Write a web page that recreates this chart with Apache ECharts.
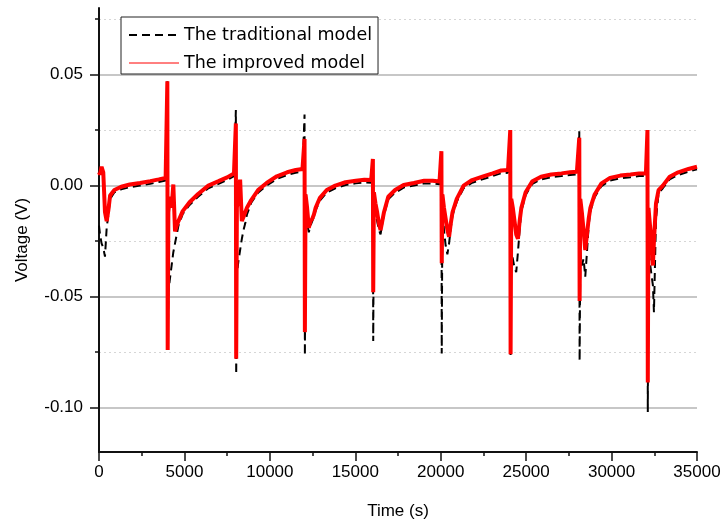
<!DOCTYPE html>
<html>
<head>
<meta charset="utf-8">
<script src="https://cdn.jsdelivr.net/npm/echarts@6/dist/echarts.min.js"></script>
<style>
html, body { margin: 0; padding: 0; background: #fff; }
#chart { width: 722px; height: 519px; }
</style>
</head>
<body>
<div id="chart"></div>
<script>
// time (s), one line per charging cycle
const timeS = [
  0, 60, 150, 250, 350, 450, 550, 650, 900, 1300, 1800, 2400, 3000, 3500, 3900,
  4000, 4020, 4060, 4150, 4250, 4350, 4450, 4550, 4650, 4900, 5300, 5800, 6400, 7000, 7500, 7900,
  8010, 8030, 8070, 8160, 8260, 8360, 8460, 8560, 8660, 8910, 9310, 9810, 10410, 11010, 11510, 11910,
  12030, 12050, 12090, 12180, 12280, 12380, 12480, 12580, 12680, 12930, 13330, 13830, 14430, 15030, 15530, 15930,
  16030, 16050, 16090, 16180, 16280, 16380, 16480, 16580, 16680, 16930, 17330, 17830, 18430, 19030, 19530, 19930,
  20040, 20060, 20100, 20190, 20290, 20390, 20490, 20590, 20690, 20940, 21340, 21840, 22440, 23040, 23540, 23940,
  24070, 24090, 24130, 24220, 24320, 24420, 24520, 24620, 24720, 24970, 25370, 25870, 26470, 27070, 27570, 27970,
  28110, 28130, 28170, 28260, 28360, 28460, 28560, 28660, 28760, 29010, 29410, 29910, 30510, 31110, 31610, 32010,
  32100, 32120, 32160, 32250, 32350, 32420, 32480, 32600, 32750, 33000, 33400, 33900, 34500, 35000
];

const traditionalV = [
  -0.018, -0.022, -0.026, -0.028, -0.032, -0.019, -0.013, -0.006, -0.003, -0.0017, -0.0007, 0, 0.0008, 0.0016, 0.0023,
  0.047, -0.074, -0.048, -0.042, -0.036, -0.030, -0.026, -0.022, -0.018, -0.0128, -0.0087, -0.005, -0.0012, 0.0008, 0.0025, 0.0043,
  0.034, -0.085, -0.040, -0.034, -0.029, -0.024, -0.020, -0.017, -0.013, -0.0077, -0.0032, 0, 0.003, 0.0048, 0.0058, 0.0063,
  0.032, -0.0765, -0.012, -0.017, -0.021, -0.018, -0.016, -0.014, -0.0112, -0.0067, -0.0032, -0.0012, 0.0003, 0.001, 0.0014, 0.0013,
  0.012, -0.070, -0.008, -0.012, -0.016, -0.020, -0.022, -0.017, -0.0132, -0.0062, -0.0032, -0.0009, 0, 0.001, 0.001, 0.0006,
  0.0155, -0.0756, -0.010, -0.020, -0.027, -0.031, -0.026, -0.019, -0.0135, -0.0072, -0.0012, 0.0013, 0.0028, 0.0043, 0.0056, 0.0058,
  0.025, -0.077, -0.028, -0.033, -0.037, -0.039, -0.030, -0.020, -0.0115, -0.0042, 0.0008, 0.0028, 0.0038, 0.0043, 0.0048, 0.005,
  0.0245, -0.079, -0.030, -0.036, -0.033, -0.041, -0.030, -0.018, -0.0115, -0.0052, -0.0002, 0.0023, 0.0033, 0.0038, 0.0043, 0.0043,
  0.025, -0.102, -0.028, -0.035, -0.041, -0.045, -0.057, -0.015, -0.0035, -0.0012, 0.0028, 0.0048, 0.0063, 0.0073
];

const improvedV = [
  0.006, 0.005, 0.0085, 0.006, -0.012, -0.016, -0.011, -0.0045, -0.002, -0.0005, 0.0005, 0.0012, 0.002, 0.0028, 0.0035,
  0.047, -0.074, -0.012, -0.005, -0.010, 0.0005, -0.0206, -0.018, -0.016, -0.0115, -0.0075, -0.0038, 0, 0.002, 0.0037, 0.0055,
  0.028, -0.078, -0.010, -0.004, 0.0027, -0.016, -0.014, -0.012, -0.010, -0.0065, -0.002, 0.0012, 0.0042, 0.006, 0.007, 0.0075,
  0.021, -0.066, -0.004, -0.010, -0.019, -0.016, -0.015, -0.013, -0.010, -0.0055, -0.002, 0, 0.0015, 0.0022, 0.0026, 0.0025,
  0.012, -0.048, -0.003, -0.008, -0.012, -0.017, -0.020, -0.016, -0.012, -0.005, -0.002, 0.0003, 0.0012, 0.0022, 0.0022, 0.0018,
  0.0155, -0.035, -0.004, -0.010, -0.015, -0.020, -0.023, -0.017, -0.012, -0.006, 0, 0.0025, 0.004, 0.0055, 0.0068, 0.007,
  0.025, -0.076, -0.006, -0.010, -0.016, -0.022, -0.024, -0.016, -0.010, -0.003, 0.002, 0.004, 0.005, 0.0055, 0.006, 0.0062,
  0.0216, -0.052, -0.006, -0.012, -0.020, -0.029, -0.022, -0.015, -0.010, -0.004, 0.001, 0.0035, 0.0045, 0.005, 0.0055, 0.0055,
  0.025, -0.0887, -0.010, -0.018, -0.026, -0.036, -0.025, -0.008, -0.002, 0, 0.004, 0.006, 0.0075, 0.0085
];

const yMajorTicks = [-0.10, -0.05, 0, 0.05];
const yMinorTicks = [-0.075, -0.025, 0.025, 0.075];

const chart = echarts.init(document.getElementById('chart'));

const labelFont = {
  fontFamily: '"Liberation Sans", Arial, sans-serif',
  fontSize: 17,
  color: '#000'
};

chart.setOption({
  animation: false,
  backgroundColor: '#fff',
  grid: { left: 99, right: 25, top: 8, bottom: 67, outerBoundsMode: 'none' },
  legend: {
    orient: 'vertical',
    left: 121,
    top: 17,
    itemWidth: 50,
    itemHeight: 14,
    itemGap: 10,
    padding: [9, 6, 2, 7],
    borderColor: '#222',
    borderWidth: 1,
    backgroundColor: '#fff',
    itemStyle: { opacity: 0 },
    textStyle: { fontFamily: '"DejaVu Sans", sans-serif', fontSize: 17.5, color: '#000' },
    data: [
      { name: 'The traditional model', lineStyle: { width: 2 } },
      { name: 'The improved model', lineStyle: { width: 1 } }
    ]
  },
  xAxis: {
    type: 'value',
    min: 0,
    max: 35000,
    interval: 5000,
    name: 'Time (s)',
    nameLocation: 'middle',
    nameGap: 51,
    nameTextStyle: labelFont,
    axisLine: { onZero: false, lineStyle: { color: '#111', width: 2 } },
    axisTick: { length: 9, lineStyle: { color: '#111', width: 1.5 } },
    minorTick: { show: true, splitNumber: 2, length: 4, lineStyle: { color: '#111', width: 1.5 } },
    axisLabel: Object.assign({ margin: 12, formatter: v => String(v) }, labelFont),
    splitLine: { show: false }
  },
  yAxis: [
    {
      type: 'value',
      min: -0.12,
      max: 0.08,
      position: 'left',
      name: 'Voltage (V)',
      nameLocation: 'middle',
      nameGap: 68,
      nameTextStyle: Object.assign({ padding: [0, 20, 0, 0] }, labelFont),
      axisLine: { show: true, onZero: false, lineStyle: { color: '#111', width: 2 } },
      axisTick: { customValues: yMajorTicks, length: 9, lineStyle: { color: '#111', width: 1.5 } },
      axisLabel: Object.assign({ customValues: yMajorTicks, margin: 16, formatter: v => v.toFixed(2) }, labelFont),
      splitLine: { show: true, lineStyle: { color: '#b5b5b5', width: 1.5 } }
    },
    {
      type: 'value',
      min: -0.12,
      max: 0.08,
      position: 'left',
      axisLine: { show: false },
      axisTick: { customValues: yMinorTicks, length: 4, lineStyle: { color: '#111', width: 1.5 } },
      axisLabel: { show: false },
      splitLine: { show: true, lineStyle: { color: '#d6d6d6', width: 1, type: [2, 3] } }
    }
  ],
  series: [
    {
      name: 'The traditional model',
      type: 'line',
      yAxisIndex: 0,
      showSymbol: false,
      symbol: 'none',
      data: timeS.map((t, i) => [t, traditionalV[i]]),
      lineStyle: { color: '#000', width: 2, type: [8, 5] },
      itemStyle: { color: '#000' },
      z: 2
    },
    {
      name: 'The improved model',
      type: 'line',
      yAxisIndex: 0,
      showSymbol: false,
      symbol: 'none',
      data: timeS.map((t, i) => [t, improvedV[i]]),
      lineStyle: { color: '#ff0000', width: 4 },
      itemStyle: { color: '#ff0000' },
      z: 3
    }
  ]
});
</script>
</body>
</html>
